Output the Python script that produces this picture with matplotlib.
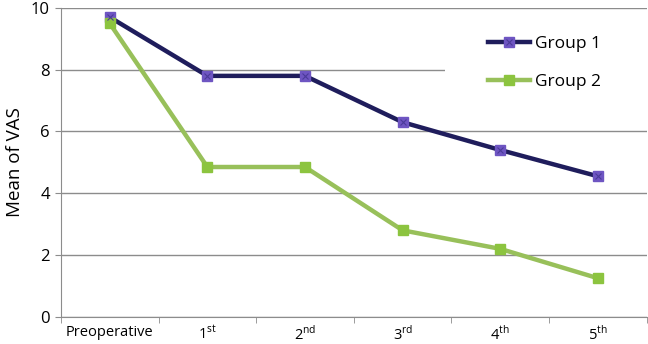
import matplotlib.pyplot as plt
from matplotlib.patches import Rectangle
from matplotlib.ticker import FixedLocator

# --- Data ---
categories = ["Preoperative", r"1$^{\mathregular{st}}$", r"2$^{\mathregular{nd}}$",
              r"3$^{\mathregular{rd}}$", r"4$^{\mathregular{th}}$", r"5$^{\mathregular{th}}$"]
group1 = [9.7, 7.8, 7.8, 6.3, 5.4, 4.55]
group2 = [9.5, 4.85, 4.85, 2.8, 2.2, 1.25]

plt.rcParams['font.family'] = ['Open Sans', 'DejaVu Sans']

fig = plt.figure(figsize=(6.48, 3.44), dpi=100)
ax = fig.add_axes([0.094, 0.079, 0.904, 0.898])

x = list(range(len(categories)))

# Group 1: navy line, purple square marker with an x
l1, = ax.plot(x, group1, color="#1f1d5c", lw=3.2, marker="s", ms=7.5,
              mfc="#6e55c2", mec="#6e55c2", zorder=3)
x1, = ax.plot(x, group1, ls="none", marker="x", ms=5, mew=0.8,
              color="#4b3a9a", zorder=4)

# Group 2: green line and square marker
l2, = ax.plot(x, group2, color="#98c05a", lw=3.2, marker="s", ms=7.5,
              mfc="#8cc43f", mec="#8cc43f", zorder=3)

# --- Axes styling ---
ax.set_xlim(-0.5, 5.5)
ax.set_ylim(0, 10)
ax.set_yticks([0, 2, 4, 6, 8, 10])
ax.yaxis.grid(True, color="#8c8c8c", lw=1.0)
ax.set_axisbelow(True)

ax.set_xticks(x)
ax.set_xticklabels(categories, fontsize=10.5)
ax.xaxis.set_minor_locator(FixedLocator([i + 0.5 for i in range(-1, 6)]))
ax.tick_params(axis="x", which="major", length=0, pad=6)
ax.tick_params(axis="x", which="minor", length=4, color="#8c8c8c")
ax.tick_params(axis="y", length=4, color="#8c8c8c", labelsize=12, pad=4)

for s in ["top", "right"]:
    ax.spines[s].set_visible(False)
for s in ["left", "bottom"]:
    ax.spines[s].set_color("#8c8c8c")

ax.set_ylabel("Mean of VAS", fontsize=13.5, labelpad=5)

# white legend area hiding the gridline behind it
ax.add_patch(Rectangle((0.655, 0.67), 0.35, 0.305, transform=ax.transAxes,
                       facecolor="white", edgecolor="none", zorder=1.5,
                       clip_on=False))

leg = ax.legend([(l1, x1), l2], ["Group 1", "Group 2"], loc="upper left",
                bbox_to_anchor=(0.729, 0.908), fontsize=12.5, frameon=False,
                handlelength=2.4, handletextpad=0.3, labelspacing=1.22,
                borderpad=0, borderaxespad=0)

fig.savefig("out.png", dpi=100)
